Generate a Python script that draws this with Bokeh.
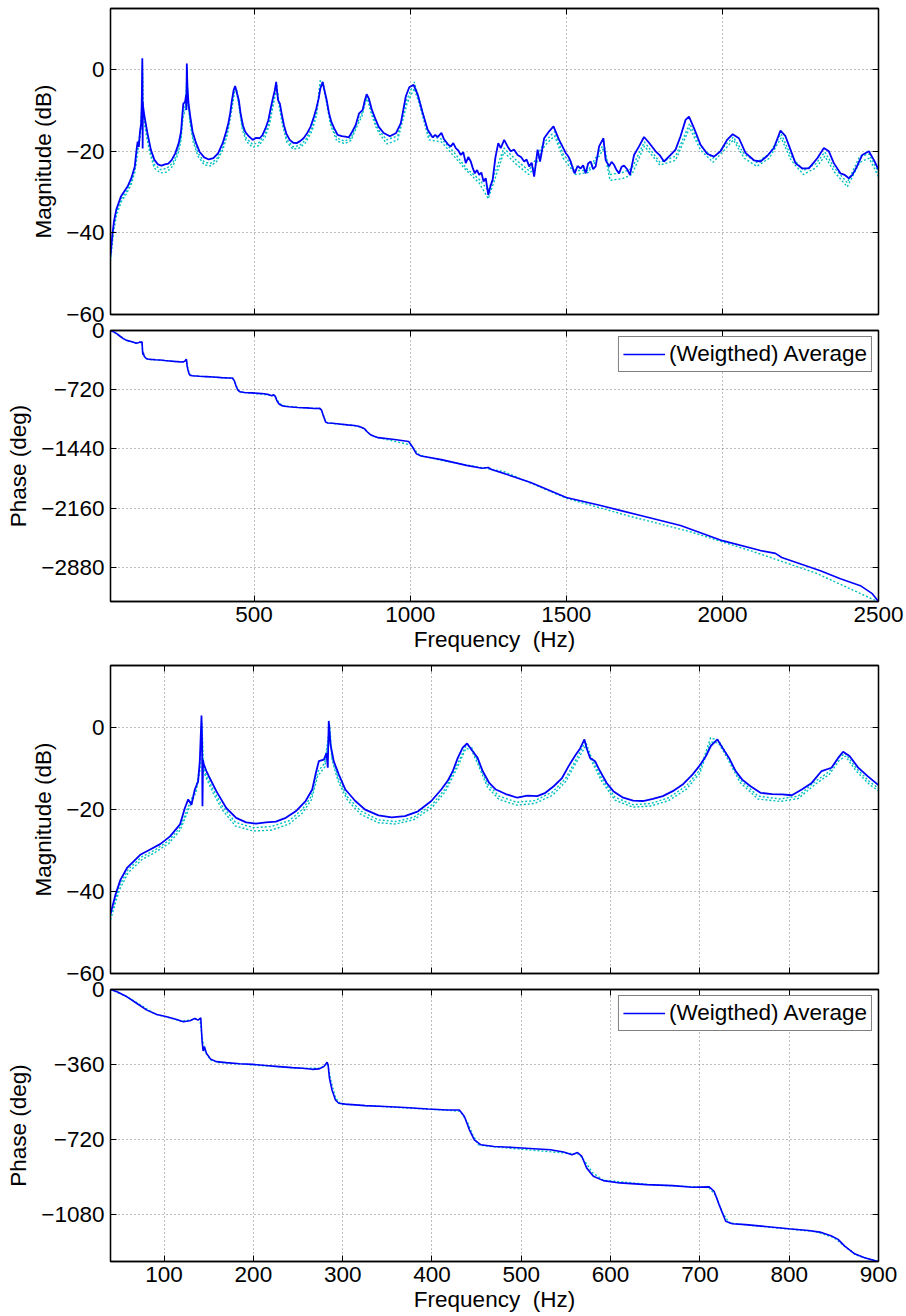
from bokeh.plotting import figure
from bokeh.layouts import column
from bokeh.models import LinearAxis, FixedTicker, Range1d
from bokeh.embed import file_html
from bokeh.resources import INLINE

# ---------------- data ----------------
freq_avg = [40, 45.6, 51.1, 58.5, 65.9, 73.3, 84.4, 95.6, 106.7, 117.8, 123.3, 127.0, 130.7, 134.4, 138.1, 140.0,
            141.9, 142.5, 143.0, 143.6, 144.4, 147.4, 151.1, 158.5, 169.6, 180.7, 191.9, 203, 214.1, 225.2, 236.3,
            247.4, 258.5, 265.9, 269.6, 273.3, 278.9, 281.9, 283.3, 284.4, 286.3, 290, 295.6, 303, 314.1, 325.2,
            340, 354.8, 369.6, 384.4, 399.3, 410.4, 417.8, 423.3, 428.9, 434.4, 439.3, 445.6, 451.1, 456.7, 464.1,
            471.5, 482.6, 495.6, 506.7, 517.8, 527, 536.3, 545.6, 553, 560.4, 565.9, 570.7, 573.3, 577, 582.6,
            588.1, 595.6, 603, 614.1, 625.2, 636.3, 647.4, 658.5, 669.6, 680.7, 691.9, 699.3, 706.7, 712.2, 715.9,
            719.6, 725.2, 732.6, 740, 747.4, 756.7, 767.8, 780.7, 791.9, 803, 814.1, 825.2, 836.3, 847.4, 854.8,
            860.4, 867.8, 877, 888.1, 899.3, 915, 935, 955, 970, 986, 997, 1011, 1024, 1040, 1056, 1072, 1080, 1088,
            1100, 1108, 1114, 1122, 1130, 1138, 1146, 1154, 1162, 1170, 1178, 1186, 1194, 1200, 1207, 1214, 1221,
            1228, 1235, 1242, 1250, 1257, 1264, 1273, 1282, 1290, 1301, 1312, 1322, 1333, 1344, 1355,
            1365, 1373, 1381, 1389, 1397, 1408, 1416, 1429, 1445, 1459, 1477, 1498, 1506, 1514, 1520, 1527, 1536,
            1546, 1554, 1562, 1570, 1578, 1586, 1594, 1605,
            1619, 1626, 1637, 1645, 1653, 1661, 1669, 1677, 1685, 1695, 1704, 1717, 1733, 1749, 1765, 1786, 1800,
            1813, 1834, 1850, 1866, 1882,
            1893, 1909, 1930, 1951, 1973, 1994, 2015, 2033, 2053, 2074, 2101, 2122, 2144, 2165, 2186, 2202, 2218,
            2234, 2256, 2277, 2304, 2325, 2341, 2357, 2378, 2392, 2405, 2415, 2426, 2448, 2469, 2485, 2500]
mag_avg = [-45.5, -40.8, -37.2, -34.3, -32.7, -31.1, -29.8, -28.5, -26.6, -23.7, -19.7, -17.6, -18.9, -15.2, -13.2, -8.3,
           2.8, -3.0, -19.3, -8.0, -9.0, -10.7, -12.4, -15.6, -19.7, -22.1, -23.2, -23.5, -23.2, -23.0, -22.1,
           -20.5, -18.0, -15.2, -11.5, -8.3, -7.9, -6.3, -9.9, 1.5, -4.2, -8.3, -11.5, -15.2, -18.0, -20.1,
           -21.5, -22.0, -21.7, -20.5, -18.0, -15.2, -13.0, -10.7, -7.5, -5.0, -4.0, -5.9, -7.5, -10.7, -13.6,
           -15.2, -16.3, -17.2, -16.7, -16.8, -16.0, -14.4, -12.4, -9.5, -6.9, -5.2, -3.0, -5.2, -7.5, -8.3,
           -10.7, -13.6, -15.6, -17.2, -17.9, -18.0, -17.5, -16.8, -15.6, -14.0, -11.5, -9.5, -7.1, -4.6, -3.8,
           -3.0, -5.0, -7.5, -10.7, -12.8, -14.4, -16.0, -16.3, -16.4, -16.6, -15.2, -13.6, -10.7, -9.9, -7.5,
           -6.0, -7.1, -9.8, -12.0, -14.0, -15.5, -16.3, -15.5, -13.1, -6.5, -4.3, -3.7, -6.1, -10.6, -14.7, -16.6, -16.0, -16.5,
           -15.5, -17.0, -17.6, -18.4, -18.8, -18.0, -19.2, -19.8, -20.9, -20.2, -22.9, -21.4, -22.5, -24.0, -25.4, -24.6, -25.8,
           -25.2, -27.4, -26.6, -30.7, -28.6, -27.0, -21.5, -18.0, -19.2, -17.2, -18.8, -20.0, -19.6, -20.9, -21.4,
           -22.5, -22.0, -23.7, -22.8, -26.2, -19.6, -22.5, -16.8, -15.1, -13.9, -17.2, -20.4, -21.2, -22.5, -24.0, -25.4, -23.6,
           -24.2, -23.4, -25.4, -23.0, -22.5, -24.4, -23.7, -18.8,
           -16.8, -22.1, -23.7, -22.6, -23.3, -24.6, -25.4, -23.8, -23.5, -24.4, -25.8, -20.9, -18.8, -16.5, -17.9, -20.0, -21.0,
           -22.5, -20.9, -19.6, -16.3, -12.3,
           -11.5, -14.3, -18.4, -20.6, -21.3, -20.0, -17.2, -15.8, -16.8, -20.4, -22.2, -22.5, -21.1, -19.2, -14.9, -16.3, -19.6,
           -22.9, -24.2, -24.2, -21.7, -19.2, -20.0, -22.9, -25.4, -25.8, -26.6, -25.9, -24.5, -20.9, -20.0, -22.1, -24.5]

freq_cyan = [40, 50, 60, 75, 90, 105, 118, 128, 136, 140, 142.5, 144, 148, 155, 165, 180, 200, 220, 240, 255, 265,
             272, 280, 285.5, 288, 295, 305, 320, 340, 360, 380, 400, 415, 428, 438, 444, 452, 462, 475, 495, 515,
             535, 550, 562, 572, 578, 590, 605, 625, 645, 665, 685, 700, 712, 721, 730, 745, 765, 790, 810, 830,
             845, 856, 863, 875, 890, 900, 925, 960, 990, 1013, 1030, 1060, 1100, 1140, 1180, 1220, 1250, 1270,
             1300, 1340, 1380, 1400, 1430, 1462, 1490, 1530, 1570, 1605, 1620, 1640, 1680, 1710, 1750, 1800, 1850,
             1895, 1930, 1970, 2000, 2035, 2070, 2110, 2150, 2188, 2220, 2260, 2300, 2328, 2360, 2400, 2440, 2470, 2500]
mag_cyan1 = [-46.0, -38.6, -34.6, -31.6, -29.9, -27.7, -24.4, -18.9, -14.9, -9.5, 1.0, -9.8, -12.0, -15.2, -19.2, -23.2,
             -24.5, -24.2, -22.8, -20.0, -16.8, -10.9, -8.7, 0.5, -7.2, -12.4, -16.9, -20.4, -22.6, -23.0, -21.9,
             -18.9, -15.0, -9.2, -4.6, -4.8, -8.6, -13.8, -16.8, -18.3, -17.9, -15.8, -12.4, -7.6, -3.5, -7.1,
             -12.5, -17.1, -18.9, -18.6, -17.2, -14.3, -10.4, -2.6, -3.3, -6.6, -12.8, -16.8, -17.5, -16.8, -13.1,
             -10.8, -7.3, -6.4, -10.0, -13.3, -14.9, -17.2, -16.2, -7.2, -3.0, -7.6, -16.2, -17.0, -20.2, -24.2,
             -26.8, -29.6, -25.6, -19.2, -22.2, -24.7, -22.2, -17.7, -15.2, -20.7, -24.7, -24.7, -20.2, -18.2,
             -25.7, -25.2, -24.2, -17.7, -22.7, -21.2, -13.2, -18.7, -21.7, -19.2, -16.5, -20.7, -22.7, -20.7,
             -15.7, -21.2, -24.7, -23.0, -20.2, -24.2, -27.7, -21.2, -20.7, -25.2]
mag_cyan2 = [-46.9, -39.6, -35.4, -32.3, -30.5, -28.4, -25.1, -19.7, -15.7, -10.6, -1.0, -10.7, -12.8, -16.1, -20.1, -24.1,
             -25.3, -25.1, -23.6, -20.9, -17.7, -11.9, -9.7, -1.0, -8.0, -13.2, -17.7, -21.2, -23.3, -23.6, -22.5,
             -19.6, -15.7, -10.0, -5.2, -5.5, -9.3, -14.6, -17.6, -19.0, -18.6, -16.6, -13.2, -8.4, -4.6, -7.9,
             -13.2, -17.8, -19.5, -19.2, -17.9, -15.1, -11.2, -3.6, -3.9, -7.3, -13.5, -17.5, -18.1, -17.4, -13.8,
             -11.5, -8.1, -7.1, -10.7, -14.0, -15.5, -18.2, -17.2, -8.2, -4.6, -8.6, -17.2, -17.7, -21.2, -24.7,
             -27.7, -31.6, -27.1, -20.2, -23.2, -25.7, -23.7, -18.7, -16.2, -21.7, -25.7, -25.2, -21.2, -19.2,
             -27.1, -26.7, -25.7, -18.7, -23.4, -22.2, -14.2, -19.7, -22.7, -20.2, -17.2, -21.7, -23.7, -21.7,
             -16.7, -22.2, -25.7, -24.0, -21.2, -25.2, -28.7, -22.7, -21.7, -26.2]

freq_ph = [40, 47.4, 58.5, 69.6, 80.7, 91.9, 103, 114.1, 121.5, 128.9, 134.4, 138.1, 141.1, 142.6, 143.7, 145.2,
           147.4, 151.9, 158.5, 169.6, 184.4, 199.3, 214.1, 228.9, 243.7, 254.8, 265.9, 273.3, 278.9, 282.6, 283.7,
           285.2, 288.1, 291.9, 295.6, 303, 325.2, 347.4, 369.6, 395.6, 417.8, 430.7, 436.3, 441.9, 447.4, 454.8,
           469.6, 491.9, 514.1, 532.6, 547.4, 556.7, 563, 567.8, 573.3, 580.7, 591.9, 610.4, 640, 669.6, 691.9,
           710.4, 715.9, 721.5, 728.9, 736.3, 751.1, 773.3, 799.3, 821.5, 834.4, 847.4, 854.8, 862.2, 873.3, 884.4,
           897.4, 950, 995, 1008, 1020, 1035, 1100, 1180, 1230, 1250, 1260, 1290, 1386, 1500, 1610, 1675, 1738, 1866,
           2000, 2122, 2170, 2190, 2314, 2378, 2442, 2480, 2500]
ph_avg = [0, -11, -35, -67, -99, -120, -131, -144, -155, -150, -139, -147, -136, -250, -295, -274,
          -306, -333, -346, -351, -356, -359, -365, -370, -375, -378, -383, -381, -370, -349, -362,
          -426, -482, -530, -546, -550, -557, -561, -566, -573, -578, -578, -609, -673, -721, -745,
          -753, -758, -764, -769, -780, -793, -782, -801, -857, -896, -917, -928, -936, -941, -949,
          -947, -968, -1032, -1112, -1124, -1128, -1137, -1148, -1156, -1164, -1183, -1199, -1231, -1268, -1287,
          -1303, -1325, -1350, -1420, -1500, -1525, -1570, -1640, -1675, -1665, -1690, -1725, -1848, -2030, -2128,
          -2190, -2250, -2372, -2555, -2676, -2710, -2760, -2920, -3018, -3103, -3200, -3295]

freq_ph_cyan = [40, 60, 90, 120, 140, 143, 146, 152, 160, 200, 250, 275, 283, 287, 292, 298, 350, 420, 432, 440,
                446, 452, 470, 550, 565, 572, 580, 592, 650, 710, 718, 725, 733, 760, 830, 850, 860, 875, 900,
                1000, 1030, 1100, 1300, 1500, 1700, 1900, 2100, 2300, 2500]
ph_cyan1 = [0, -38, -118, -152, -140, -240, -300, -338, -350, -362, -378, -378, -355, -440, -520, -550, -563, -580,
            -585, -640, -700, -745, -755, -785, -790, -830, -880, -915, -938, -950, -990, -1070, -1120, -1133, -1162,
            -1190, -1225, -1275, -1305, -1390, -1515, -1580, -1715, -2040, -2255, -2450, -2690, -2950, -3300]

x_ticks_full = [500, 1000, 1500, 2000, 2500]
x_ticks_zoom = [100, 200, 300, 400, 500, 600, 700, 800, 900]
mag_ticks = [-60, -40, -20, 0]
ph_ticks_full = [-2880, -2160, -1440, -720, 0]
ph_ticks_zoom = [-1080, -720, -360, 0]

mag_label = "Magnitude (dB)"
phase_label = "Phase (deg)"
freq_label = "Frequency\u00a0 (Hz)"
legend_text = "(Weigthed) Average"

# ---------------- styling ----------------
FONT = "Liberation Sans"
FS = "22.5px"
BLUE = "#0000ff"
CYAN = "#00bfbf"


def labels(ticks):
    return {t: str(t).replace("-", "\u2212") for t in ticks}


def panel(xr, yr, xt, yt, fw, fh, bl, br, bt, bb, ylabel, xlabel=None, show_xlabels=True):
    p = figure(width=bl + fw + br, height=bt + fh + bb, x_range=Range1d(*xr), y_range=Range1d(*yr),
               output_backend="svg", toolbar_location=None, title=None,
               min_border_left=bl, min_border_right=br, min_border_top=bt, min_border_bottom=bb,
               border_fill_color=None, background_fill_color="white",
               outline_line_color="black", outline_line_width=1.3)
    xa = p.xaxis[0]
    ya = p.yaxis[0]
    xa.ticker = FixedTicker(ticks=xt, minor_ticks=[])
    ya.ticker = FixedTicker(ticks=yt, minor_ticks=[])
    for ax in (xa, ya):
        ax.major_tick_in = 6
        ax.major_tick_out = 0
        ax.minor_tick_line_color = None
        ax.axis_line_color = "black"
        ax.axis_line_width = 1.3
        ax.major_tick_line_color = "black"
        ax.major_label_text_font = FONT
        ax.major_label_text_font_size = FS
        ax.major_label_text_color = "black"
        ax.axis_label_text_font = FONT
        ax.axis_label_text_font_size = FS
        ax.axis_label_text_font_style = "normal"
        ax.axis_label_text_color = "black"
    ya.major_label_overrides = labels(yt)
    ya.major_label_standoff = 6
    ya.axis_label = ylabel
    ya.axis_label_standoff = 7
    if show_xlabels:
        xa.major_label_standoff = 5
        xa.axis_label = xlabel
        xa.axis_label_standoff = 2
    else:
        xa.major_label_text_font_size = "1px"
        xa.major_label_text_color = None
        xa.major_label_standoff = 0
    for loc, ticks in (("right", yt), ("above", xt)):
        ax = LinearAxis(ticker=FixedTicker(ticks=ticks, minor_ticks=[]), major_tick_in=6, major_tick_out=0,
                        minor_tick_line_color=None, major_label_text_font_size="1px",
                        major_label_text_color=None, major_label_standoff=0,
                        axis_line_color="black", axis_line_width=1.3, major_tick_line_color="black")
        p.add_layout(ax, loc)
    for g in (p.xgrid[0], p.ygrid[0]):
        g.grid_line_color = "#7a7a7a"
        g.grid_line_dash = "1 3"
        g.grid_line_width = 1
    return p


def add_mag(p):
    p.line(freq_cyan, mag_cyan2, color=CYAN, line_width=1.4, line_dash="2 2")
    p.line(freq_cyan, mag_cyan1, color=CYAN, line_width=1.4, line_dash="2 2")
    p.line(freq_avg, mag_avg, color=BLUE, line_width=1.8)


def add_phase(p):
    p.line(freq_ph_cyan, ph_cyan1, color=CYAN, line_width=1.4, line_dash="2 2")
    p.line(freq_ph, ph_avg, color=BLUE, line_width=1.6, legend_label=legend_text)
    lg = p.legend[0]
    lg.location = "top_right"
    lg.label_text_font = FONT
    lg.label_text_font_size = FS
    lg.label_text_color = "black"
    lg.border_line_color = "black"
    lg.border_line_width = 1.3
    lg.background_fill_color = "white"
    lg.background_fill_alpha = 1.0
    lg.glyph_width = 42
    lg.label_standoff = 4
    lg.padding = 4
    lg.spacing = 0
    lg.margin = 6


# page coordinates: frames at x 110..878 (top pair) and 110..884 (bottom pair)
p1 = panel((40, 2500), (-60, 15), x_ticks_full, mag_ticks, 768, 306, 110, 28, 8, 12, mag_label,
           show_xlabels=False)
add_mag(p1)

p2 = panel((40, 2500), (-3295, 0), x_ticks_full, ph_ticks_full, 768, 271, 110, 28, 16, 54, phase_label,
           xlabel=freq_label)
add_phase(p2)
p2.margin = (-12, 0, 0, 0)

p3 = panel((40, 900), (-60, 15), x_ticks_zoom, mag_ticks, 774, 308, 110, 22, 10, 12, mag_label,
           show_xlabels=False)
add_mag(p3)

p4 = panel((40, 900), (-1305, 0), x_ticks_zoom, ph_ticks_zoom, 774, 273, 110, 22, 16, 52, phase_label,
           xlabel=freq_label)
add_phase(p4)
p4.margin = (-12, 0, 0, 0)

layout = column(p1, p2, p3, p4, spacing=0)
open("out.html", "w").write(file_html(layout, INLINE))
